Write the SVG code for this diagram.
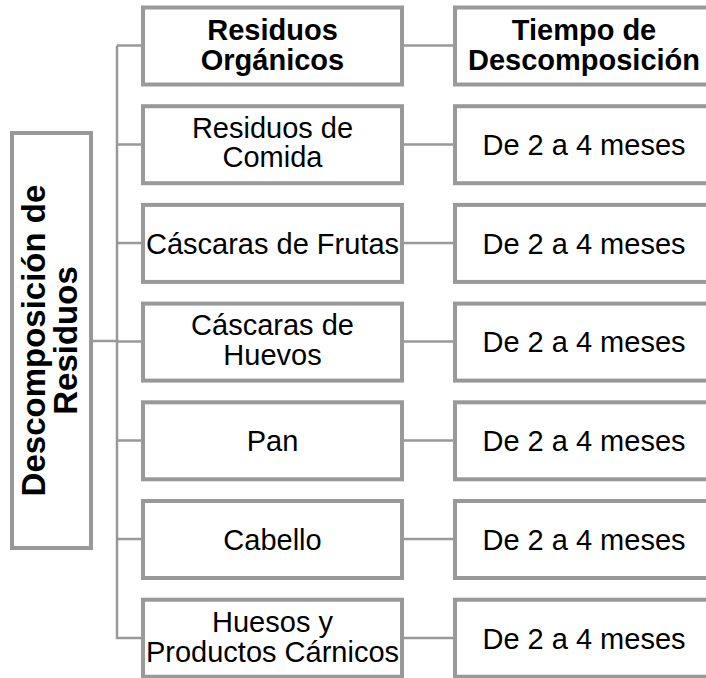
<svg xmlns="http://www.w3.org/2000/svg" width="706" height="678" viewBox="0 0 706 678">
<style>
.box{fill:#fff;stroke:#999;stroke-width:4}
.con{fill:none;stroke:#999;stroke-width:2.5}
text{font-family:"Liberation Sans",Arial,sans-serif;font-size:29px;fill:#000;text-anchor:middle}
.b{font-weight:bold}
.t{font-size:33px;font-weight:bold}
</style>
<rect width="706" height="678" fill="#fff"/>
<g id="connectors">
<path class="con" d="M93,341H117M117,45.5V639M117,45.5H141M117,144.5H141M117,243H141M117,341.5H141M117,440.5H141M117,539H141M117,638H141"/>
<path class="con" d="M403,45.5H453M403,144.5H453M403,243H453M403,341.5H453M403,440.5H453M403,539H453M403,638H453"/>
</g>
<g id="root">
<rect class="box" x="12" y="133" width="79" height="415"/>
<g transform="translate(52,340.5) rotate(-90)"><text class="t" x="0" y="-7">Descomposición de</text><text class="t" x="0" y="25">Residuos</text></g>
</g>
<g id="h1"><rect class="box" x="143" y="7.5" width="259" height="77"/><text class="b" x="272.5" y="39.5">Residuos</text><text class="b" x="272.5" y="69.5">Orgánicos</text></g>
<g id="h2"><rect class="box" x="455" y="7.5" width="256" height="77"/><text class="b" x="584" y="39.5">Tiempo de</text><text class="b" x="584" y="69.5">Descomposición</text></g>
<g id="r1"><rect class="box" x="143" y="106.2" width="259" height="77"/><text x="272.5" y="138">Residuos de</text><text x="272.5" y="167">Comida</text></g>
<g id="t1"><rect class="box" x="455" y="106.2" width="256" height="77"/><text x="584" y="155">De 2 a 4 meses</text></g>
<g id="r2"><rect class="box" x="143" y="204.9" width="259" height="77"/><text x="272.5" y="253.5">Cáscaras de Frutas</text></g>
<g id="t2"><rect class="box" x="455" y="204.9" width="256" height="77"/><text x="584" y="253.5">De 2 a 4 meses</text></g>
<g id="r3"><rect class="box" x="143" y="303.6" width="259" height="77"/><text x="272.5" y="335">Cáscaras de</text><text x="272.5" y="365">Huevos</text></g>
<g id="t3"><rect class="box" x="455" y="303.6" width="256" height="77"/><text x="584" y="352">De 2 a 4 meses</text></g>
<g id="r4"><rect class="box" x="143" y="402.3" width="259" height="77"/><text x="272.5" y="451">Pan</text></g>
<g id="t4"><rect class="box" x="455" y="402.3" width="256" height="77"/><text x="584" y="451">De 2 a 4 meses</text></g>
<g id="r5"><rect class="box" x="143" y="501" width="259" height="77"/><text x="272.5" y="549.5">Cabello</text></g>
<g id="t5"><rect class="box" x="455" y="501" width="256" height="77"/><text x="584" y="549.5">De 2 a 4 meses</text></g>
<g id="r6"><rect class="box" x="143" y="599.7" width="259" height="77"/><text x="272.5" y="631.5">Huesos y</text><text x="272.5" y="661.5">Productos Cárnicos</text></g>
<g id="t6"><rect class="box" x="455" y="599.7" width="256" height="77"/><text x="584" y="648.5">De 2 a 4 meses</text></g>
</svg>
